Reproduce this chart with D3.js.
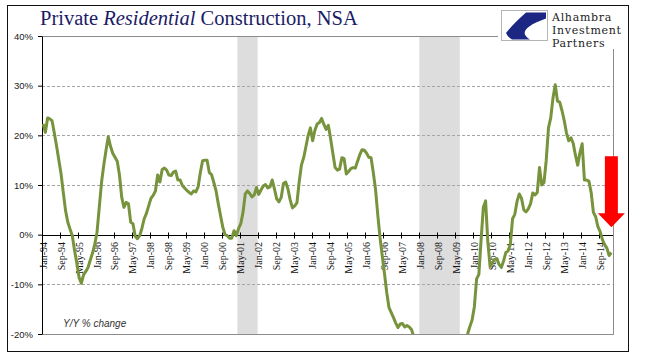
<!DOCTYPE html>
<html>
<head>
<meta charset="utf-8">
<script src="https://cdn.jsdelivr.net/npm/d3@7"></script>
<style>
  body { margin: 0; background: #fff; }
</style>
</head>
<body>
<svg id="chart" width="647" height="358"></svg>
<script>
// Y/Y % change, monthly Jan-94 .. Feb-15
const values = [
  22.3, 20.6, 23.5, 23.3, 22.9, 20.4, 17.8, 15.0, 12.2, 8.4, 4.8, 2.5,        // 1994
  1.1, -0.2, -3.2, -5.7, -8.6, -9.8, -8.1, -7.4, -6.6, -5.1, -3.7, -1.9,      // 1995
  0.5, 5.5, 10.5, 14.0, 17.0, 19.7, 17.8, 16.4, 15.6, 14.8, 12.0, 7.5,        // 1996
  5.5, 6.5, 6.2, 2.5, 2.2, -0.3, -0.8, -0.2, 1.3, 3.2, 4.3, 5.8,              // 1997
  7.3, 7.9, 8.8, 12.0, 10.6, 13.1, 13.4, 13.0, 12.0, 11.9, 12.6, 12.8,        // 1998
  11.0, 11.0, 9.9, 9.4, 8.9, 8.5, 8.2, 8.8, 8.6, 9.6, 12.5, 14.9,             // 1999
  15.0, 15.0, 12.5, 12.1, 10.5, 8.8, 6.2, 3.8, 1.5, 0.0, -0.2, -0.7,          // 2000
  -0.7, 0.8, -0.2, 1.2, 2.2, 4.5, 8.2, 8.8, 8.3, 7.6, 8.0, 9.5,               // 2001
  8.1, 9.0, 9.8, 10.1, 9.4, 9.6, 11.0, 9.2, 7.2, 6.6, 7.5, 10.3,              // 2002
  10.6, 9.2, 7.0, 5.4, 5.8, 6.4, 10.6, 14.0, 15.5, 17.7, 20.0, 21.5,          // 2003
  18.9, 21.0, 22.3, 22.6, 23.4, 22.2, 21.2, 22.0, 19.3, 16.4, 13.5, 13.0,     // 2004
  13.2, 15.5, 15.3, 12.2, 12.7, 13.3, 13.5, 13.4, 14.8, 16.1, 17.1, 17.0,     // 2005
  16.4, 15.6, 15.5, 12.5, 9.1, 4.0, -0.6, -4.3, -7.9, -11.7, -14.7, -15.7,    // 2006
  -16.7, -17.8, -18.7, -18.0, -17.9, -18.6, -18.3, -18.6, -19.1, -20.5, -22.0, -24.0, // 2007
  -26.0, -28.0, -29.0, -30.0, -31.0, -30.0, -31.0, -32.0, -33.0, -33.0, -34.0, -35.0, // 2008
  -34.0, -33.0, -32.0, -30.0, -28.0, -27.0, -25.0, -24.0, -22.0, -20.0, -18.5, -17.2, // 2009
  -14.5, -8.9, -8.0, -1.0, 5.5, 6.8, -1.5, -6.4, -5.7, -5.0, -4.8, -6.0,      // 2010
  -6.6, -5.3, -3.6, -3.3, -2.0, 3.2, 4.1, 6.7, 8.2, 7.3, 5.0, 4.6,            // 2011
  5.2, 6.2, 8.4, 8.0, 8.5, 13.5, 10.0, 10.5, 15.0, 21.5, 23.5, 27.5,          // 2012
  30.2, 26.9, 26.7, 25.0, 23.0, 20.5, 18.9, 19.5, 18.4, 16.0, 14.0, 16.5,     // 2013
  18.3, 11.0, 11.0, 10.8, 8.5, 4.5, 3.6, 1.6, 0.6, -1.0, -2.0, -2.7,          // 2014
  -4.2, -3.6                                                                  // 2015
];

const tickLabels = [
  "Jan-94", "Sep-94", "May-95", "Jan-96", "Sep-96", "May-97", "Jan-98", "Sep-98",
  "May-99", "Jan-00", "Sep-00", "May-01", "Jan-02", "Sep-02", "May-03", "Jan-04",
  "Sep-04", "May-05", "Jan-06", "Sep-06", "May-07", "Jan-08", "Sep-08", "May-09",
  "Jan-10", "Sep-10", "May-11", "Jan-12", "Sep-12", "May-13", "Jan-14", "Sep-14"
];
const yTicks = [-20, -10, 0, 10, 20, 30, 40];
const gridTicks = [-10, 10, 20, 30];
const recessions = [["Apr-01", "Dec-01"], ["Jan-08", "Jun-09"]];

const fmt = d3.timeFormat("%b-%y");
const months = d3.timeMonth.range(new Date(1994, 0, 1), new Date(2015, 2, 1)).map(fmt);
const data = months.map((m, i) => ({ month: m, value: values[i] }));

const plotLeft = 42, plotRight = 612.5, plotTop = 36, plotBottom = 334;

const svg = d3.select("#chart");
svg.append("rect").attr("width", 647).attr("height", 358).attr("fill", "#fff");

const x = d3.scaleBand().domain(months).range([plotLeft, plotRight]).padding(0);
const y = d3.scaleLinear().domain([-20, 40]).range([plotBottom, plotTop]);
const bw = x.bandwidth();
const crisp = v => Math.round(v) + 0.5;

svg.append("defs").append("clipPath").attr("id", "plotClip")
  .append("rect").attr("x", plotLeft).attr("y", plotTop)
  .attr("width", plotRight - plotLeft).attr("height", plotBottom - plotTop);

// recession shading
svg.append("g").selectAll("rect")
  .data(recessions)
  .join("rect")
  .attr("x", d => x(d[0]))
  .attr("width", d => x(d[1]) + bw - x(d[0]))
  .attr("y", plotTop)
  .attr("height", plotBottom - plotTop)
  .attr("fill", "#dddddd");

// dashed gridlines
svg.append("g").selectAll("line")
  .data(gridTicks)
  .join("line")
  .attr("x1", plotLeft).attr("x2", plotRight)
  .attr("y1", d => crisp(y(d))).attr("y2", d => crisp(y(d)))
  .attr("stroke", "#a6a6a6")
  .attr("stroke-dasharray", "3,2");

// plot area border (top, right, bottom)
svg.append("path")
  .attr("d", `M${plotLeft},${crisp(y(40))}H${crisp(plotRight)}V${crisp(y(-20))}H${plotLeft}`)
  .attr("fill", "none")
  .attr("stroke", "#8c8c8c");

// x axis at 0%
const gx = svg.append("g")
  .attr("transform", `translate(0,${Math.round(y(0))})`)
  .call(d3.axisBottom(x).tickValues(tickLabels).tickSize(0).tickSizeOuter(0));
gx.select(".domain").attr("stroke", "#000");
gx.selectAll(".tick text")
  .attr("transform", "rotate(-90)")
  .attr("text-anchor", "end")
  .attr("x", -7)
  .attr("y", 0)
  .attr("dy", "0.35em")
  .attr("font-family", "'Liberation Serif', 'Times New Roman', serif")
  .attr("font-size", 10)
  .attr("fill", "#111");
gx.selectAll(".bnd")
  .data(tickLabels.slice(1))
  .join("line")
  .attr("class", "bnd")
  .attr("x1", d => crisp(x(d))).attr("x2", d => crisp(x(d)))
  .attr("y1", -2.5).attr("y2", 3.5)
  .attr("stroke", "#000");

// y axis
const gy = svg.append("g")
  .attr("transform", `translate(${plotLeft},0)`)
  .call(d3.axisLeft(y).tickValues(yTicks).tickFormat(d => d + "%").tickSize(4).tickSizeOuter(0).tickPadding(5));
gy.select(".domain").attr("stroke", "#000");
gy.selectAll(".tick line").attr("stroke", "#000");
gy.selectAll(".tick text")
  .attr("font-family", "'Liberation Sans', Arial, sans-serif")
  .attr("font-size", 9.5)
  .attr("fill", "#222");

// data line
const line = d3.line()
  .x(d => x(d.month) + bw / 2)
  .y(d => y(d.value));

svg.append("path")
  .datum(data)
  .attr("clip-path", "url(#plotClip)")
  .attr("d", line)
  .attr("fill", "none")
  .attr("stroke", "#77933c")
  .attr("stroke-width", 3)
  .attr("stroke-linejoin", "round");

svg.append("text")
  .attr("x", 63).attr("y", 327)
  .attr("font-family", "'Liberation Sans', Arial, sans-serif")
  .attr("font-style", "italic")
  .attr("font-size", 10)
  .attr("fill", "#333")
  .text("Y/Y % change");

// red arrow at the latest readings
const ax = x(months[months.length - 1]) + bw / 2;
const aTop = y(15.8), aNeck = y(4.3), aTip = y(1.5);
const arrowPts = [
  [ax - 6.5, aTop], [ax + 6.5, aTop], [ax + 6.5, aNeck], [ax + 13.5, aNeck],
  [ax, aTip], [ax - 13.5, aNeck], [ax - 6.5, aNeck]
];
svg.append("path")
  .attr("d", d3.line()(arrowPts) + "Z")
  .attr("fill", "#ff0000");

// logo
const logo = svg.append("g");
logo.append("rect").attr("x", 498).attr("y", 7).attr("width", 129).attr("height", 42).attr("fill", "#fff");
logo.append("rect").attr("x", 501.5).attr("y", 10.5).attr("width", 46).attr("height", 30)
  .attr("fill", "#fff").attr("stroke", "#b5b5b5");
logo.append("path")
  .attr("d", "M546,12.5 L526,12.5 Q513,24 506,33 Q508,37.5 512,39.5 L530,39.5 Q514,30 546,18.5 Z")
  .attr("fill", "#1c2683");
logo.selectAll("text.brand")
  .data(["Alhambra", "Investment", "Partners"])
  .join("text")
  .attr("class", "brand")
  .attr("x", 552)
  .attr("y", (d, i) => 20.5 + i * 13)
  .attr("font-family", "'DejaVu Serif', serif")
  .attr("font-size", 11)
  .attr("letter-spacing", 0.7)
  .attr("fill", "#222")
  .text(d => d);

// title
const title = svg.append("text")
  .attr("x", 40).attr("y", 25)
  .attr("font-family", "'Liberation Serif', 'Times New Roman', serif")
  .attr("font-size", 20.5)
  .attr("fill", "#1b1b66");
title.append("tspan").text("Private ");
title.append("tspan").attr("font-style", "italic").text("Residential");
title.append("tspan").text(" Construction, NSA");

// outer frame
svg.append("rect")
  .attr("x", 7.5).attr("y", 5.5).attr("width", 621).attr("height", 346)
  .attr("fill", "none").attr("stroke", "#111");
</script>
</body>
</html>
